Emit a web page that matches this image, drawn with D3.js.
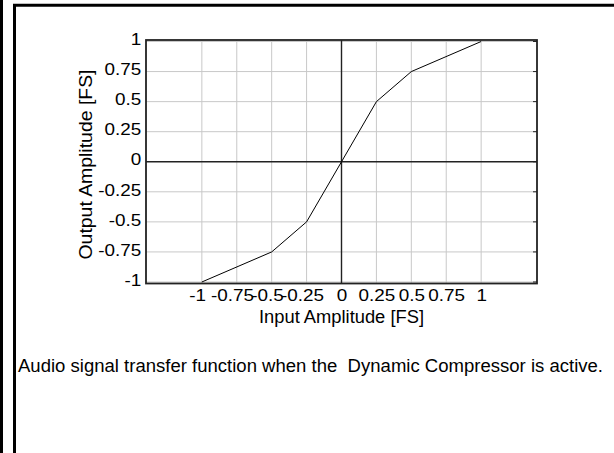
<!DOCTYPE html>
<html>
<head>
<meta charset="utf-8">
<script src="https://cdn.jsdelivr.net/npm/d3@7"></script>
<style>
  html, body { margin: 0; padding: 0; background: #fff; }
  svg { display: block; }
  text { font-family: "Liberation Sans", Arial, sans-serif; fill: #000; }
</style>
</head>
<body>
<svg id="chart" width="614" height="453"></svg>
<script>
// ---- data ----
const inputAmplitude  = [-1, -0.5, -0.25, 0, 0.25, 0.5, 1];
const outputAmplitude = [-1, -0.75, -0.5, 0, 0.5, 0.75, 1];
const xTickValues = [-1, -0.75, -0.5, -0.25, 0, 0.25, 0.5, 0.75, 1];
const xTickLabels = ["-1", "-0.75", "-0.5", "-0.25", "0", "0.25", "0.5", "0.75", "1"];
const yTickValues = [1, 0.75, 0.5, 0.25, 0, -0.25, -0.5, -0.75, -1];
const yTickLabels = ["1", "0.75", "0.5", "0.25", "0", "-0.25", "-0.5", "-0.75", "-1"];
const xTitle = "Input Amplitude [FS]";
const yTitle = "Output Amplitude [FS]";
const caption = "Audio signal transfer function when the  Dynamic Compressor is active.";

// ---- layout ----
const svg = d3.select("#chart");
svg.append("rect").attr("width", 614).attr("height", 453).attr("fill", "#fff");

// page frame lines
svg.append("line").attr("x1", 1.5).attr("x2", 1.5).attr("y1", 0).attr("y2", 453)
  .attr("stroke", "#000").attr("stroke-width", 3);
svg.append("line").attr("x1", 14.5).attr("x2", 14.5).attr("y1", 4).attr("y2", 453)
  .attr("stroke", "#000").attr("stroke-width", 3);
svg.append("line").attr("x1", 13).attr("x2", 614).attr("y1", 5.3).attr("y2", 5.3)
  .attr("stroke", "#000").attr("stroke-width", 3);

const x = d3.scaleLinear().domain([-1.4, 1.4]).range([146, 537]);
const y = d3.scaleLinear().domain([-1.0125, 1.0125]).range([283.5, 40]);

const plot = svg.append("g");

// grid
plot.selectAll(".vgrid").data(xTickValues.filter(d => d !== 0)).join("line")
  .attr("x1", d => x(d)).attr("x2", d => x(d))
  .attr("y1", y.range()[1]).attr("y2", y.range()[0])
  .attr("stroke", "#c8c8c8").attr("stroke-width", 1);
plot.selectAll(".hgrid").data(yTickValues.filter(d => d !== 0)).join("line")
  .attr("x1", x.range()[0]).attr("x2", x.range()[1])
  .attr("y1", d => y(d)).attr("y2", d => y(d))
  .attr("stroke", "#c8c8c8").attr("stroke-width", 1);

// zero axes
plot.append("line").attr("x1", x(0)).attr("x2", x(0))
  .attr("y1", y.range()[1]).attr("y2", y.range()[0])
  .attr("stroke", "#222").attr("stroke-width", 1.4);
plot.append("line").attr("x1", x.range()[0]).attr("x2", x.range()[1])
  .attr("y1", y(0)).attr("y2", y(0))
  .attr("stroke", "#222").attr("stroke-width", 1.4);

// right-side small ticks
plot.selectAll(".rtick").data(yTickValues).join("line")
  .attr("x1", x.range()[1] - 4).attr("x2", x.range()[1])
  .attr("y1", d => y(d)).attr("y2", d => y(d))
  .attr("stroke", "#222").attr("stroke-width", 1);

// data line
plot.append("path")
  .datum(inputAmplitude.map((v, i) => [v, outputAmplitude[i]]))
  .attr("fill", "none").attr("stroke", "#000").attr("stroke-width", 1)
  .attr("d", d3.line().x(d => x(d[0])).y(d => y(d[1])));

// plot frame
plot.append("rect")
  .attr("x", x.range()[0]).attr("y", y.range()[1])
  .attr("width", x.range()[1] - x.range()[0])
  .attr("height", y.range()[0] - y.range()[1])
  .attr("fill", "none").attr("stroke", "#222").attr("stroke-width", 1.8);

// axes (labels only) — glyphs are wide in the reference, so stretch horizontally
const stretch = 1.18;
const yAxis = svg.append("g").attr("transform", `translate(${x.range()[0]},0)`)
  .call(d3.axisLeft(y).tickValues(yTickValues)
    .tickFormat((d, i) => yTickLabels[i]).tickSize(0).tickPadding(4));
yAxis.select(".domain").remove();
yAxis.attr("font-family", null).attr("font-size", null);
yAxis.selectAll("text")
  .attr("dy", "0.2em")
  .attr("transform", `scale(${stretch},1)`)
  .style("font-size", "16px").attr("fill", "#000");

const xAxis = svg.append("g").attr("transform", `translate(0,${y.range()[0]})`)
  .call(d3.axisBottom(x).tickValues(xTickValues)
    .tickFormat((d, i) => xTickLabels[i]).tickSize(0).tickPadding(6.5));
xAxis.select(".domain").remove();
xAxis.attr("font-family", null).attr("font-size", null);
xAxis.selectAll("text")
  .attr("dx", d => d < 0 ? -4 : 0)
  .attr("transform", `scale(${stretch},1)`)
  .style("font-size", "16px").attr("fill", "#000");

// axis titles
svg.append("text")
  .attr("x", x(0)).attr("y", 323)
  .attr("text-anchor", "middle")
  .attr("textLength", 165).attr("lengthAdjust", "spacingAndGlyphs")
  .style("font-size", "17.5px")
  .text(xTitle);

svg.append("text")
  .attr("transform", `translate(92,${(70 + 259) / 2}) rotate(-90)`)
  .attr("text-anchor", "middle")
  .attr("textLength", 190).attr("lengthAdjust", "spacingAndGlyphs")
  .style("font-size", "17.5px")
  .text(yTitle);

// caption
svg.append("text")
  .attr("x", 18).attr("y", 372)
  .attr("textLength", 585).attr("lengthAdjust", "spacingAndGlyphs")
  .attr("xml:space", "preserve")
  .style("white-space", "pre")
  .style("font-size", "17.5px")
  .text(caption);
</script>
</body>
</html>
